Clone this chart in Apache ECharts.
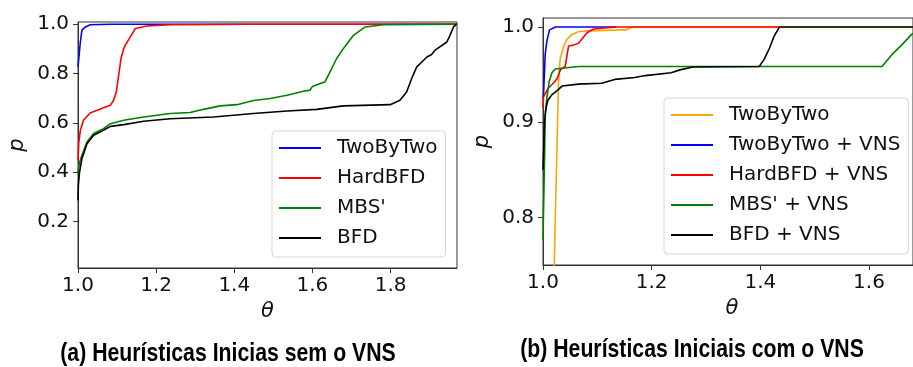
<!DOCTYPE html>
<html>
<head>
<meta charset="utf-8">
<script src="https://cdn.jsdelivr.net/npm/echarts@6/dist/echarts.min.js"></script>
<style>
  html, body { margin: 0; padding: 0; background: #fff; }
  #chart { width: 913px; height: 367px; }
</style>
</head>
<body>
<div id="chart"></div>
<script>
// (a) sem VNS
const namesA = ['TwoByTwo', 'HardBFD', "MBS'", 'BFD'];
const tbtX = [1.0, 1.0015, 1.006, 1.010, 1.019, 1.031, 1.083, 1.97];
const tbtY = [0.827, 0.83, 0.928, 0.976, 0.989, 0.998, 1.0, 1.0];
const hbfdX = [1.0, 1.002, 1.006, 1.014, 1.031, 1.049, 1.065, 1.083, 1.091, 1.098, 1.104, 1.110, 1.117, 1.121, 1.134, 1.147, 1.176, 1.236, 1.45, 1.97];
const hbfdY = [0.449, 0.52, 0.570, 0.611, 0.640, 0.651, 0.661, 0.672, 0.692, 0.725, 0.793, 0.861, 0.901, 0.915, 0.949, 0.983, 0.993, 0.998, 1.0, 1.0];
const mbsX = [1.0, 1.004, 1.010, 1.023, 1.040, 1.065, 1.083, 1.117, 1.168, 1.236, 1.287, 1.321, 1.364, 1.407, 1.449, 1.492, 1.535, 1.577, 1.594, 1.600, 1.620, 1.632, 1.645, 1.662, 1.679, 1.705, 1.735, 1.782, 1.97];
const mbsY = [0.401, 0.44, 0.469, 0.523, 0.557, 0.577, 0.597, 0.611, 0.624, 0.638, 0.642, 0.655, 0.669, 0.674, 0.691, 0.699, 0.712, 0.728, 0.733, 0.748, 0.760, 0.766, 0.807, 0.861, 0.901, 0.955, 0.989, 0.998, 1.0];
const bfdX = [1.0, 1.001, 1.004, 1.010, 1.023, 1.040, 1.065, 1.083, 1.117, 1.168, 1.236, 1.347, 1.449, 1.535, 1.611, 1.679, 1.799, 1.824, 1.841, 1.854, 1.867, 1.880, 1.893, 1.905, 1.914, 1.944, 1.952, 1.961, 1.969];
const bfdY = [0.286, 0.35, 0.401, 0.455, 0.516, 0.550, 0.570, 0.586, 0.593, 0.607, 0.617, 0.624, 0.638, 0.648, 0.655, 0.669, 0.674, 0.692, 0.725, 0.780, 0.827, 0.847, 0.867, 0.877, 0.895, 0.928, 0.955, 0.989, 1.0];

// (b) com VNS
const namesB = ['TwoByTwo', 'TwoByTwo + VNS', 'HardBFD + VNS', "MBS' + VNS", 'BFD + VNS'];
const tbt0X = [1.019, 1.0207, 1.0256, 1.0286, 1.0317, 1.0377, 1.044, 1.053, 1.065, 1.0835, 1.151, 1.166, 1.681];
const tbt0Y = [0.60, 0.75, 0.872, 0.942, 0.967, 0.979, 0.987, 0.992, 0.995, 0.996, 0.997, 1.0, 1.0];
const tbtVX = [1.0, 1.001, 1.004, 1.007, 1.012, 1.023, 1.135];
const tbtVY = [0.925, 0.929, 0.971, 0.985, 0.997, 1.0, 1.0];
const hbfdVX = [1.0, 1.001, 1.010, 1.019, 1.026, 1.032, 1.041, 1.047, 1.056, 1.065, 1.071, 1.081, 1.093, 1.135, 1.435];
const hbfdVY = [0.915, 0.927, 0.936, 0.941, 0.946, 0.955, 0.959, 0.980, 0.981, 0.983, 0.987, 0.994, 0.998, 1.0, 1.0];
const mbsVX = [1.0, 1.003, 1.004, 1.007, 1.0115, 1.0165, 1.0225, 1.065, 1.624, 1.642, 1.660, 1.678, 1.698];
const mbsVY = [0.777, 0.866, 0.908, 0.925, 0.943, 0.952, 0.956, 0.9585, 0.9585, 0.971, 0.981, 0.992, 1.0];
const bfdVX = [1.0, 1.001, 1.003, 1.0055, 1.009, 1.0165, 1.0256, 1.035, 1.065, 1.108, 1.132, 1.169, 1.188, 1.236, 1.252, 1.276, 1.398, 1.407, 1.417, 1.425, 1.435, 1.681];
const bfdVY = [0.85, 0.852, 0.901, 0.915, 0.923, 0.929, 0.933, 0.938, 0.940, 0.941, 0.945, 0.947, 0.949, 0.952, 0.955, 0.958, 0.9585, 0.966, 0.978, 0.990, 1.0, 1.0];

const xTicksA = [1.0, 1.2, 1.4, 1.6, 1.8];
const yTicksA = [0.2, 0.4, 0.6, 0.8, 1.0];
const xTicksB = [1.0, 1.2, 1.4, 1.6];
const yTicksB = [0.8, 0.9, 1.0];
const captionA = '(a) Heurísticas Inicias sem o VNS';
const captionB = '(b) Heurísticas Iniciais com o VNS';

const colorsA = ['#0000ff', '#ff0000', '#008000', '#000000'];
const colorsB = ['#ffa500', '#0000ff', '#ff0000', '#008000', '#000000'];

const zip = (xs, ys) => xs.map((x, i) => [x, ys[i]]);
const FONT = 'DejaVu Sans';
const INK = '#111';

function xAxis(idx, max, ticks, shift) {
  return {
    type: 'value', gridIndex: idx, min: 1.0, max: max,
    name: 'θ', nameLocation: 'middle', nameGap: 32,
    nameTextStyle: { fontFamily: FONT, fontStyle: 'italic', fontSize: 21, color: INK, padding: [0, 0, 0, shift] },
    axisLine: { show: true, onZero: false, lineStyle: { color: '#333', width: 1 } },
    axisTick: { show: true, length: 5, customValues: ticks, lineStyle: { color: '#333' } },
    axisLabel: { customValues: ticks, margin: 8, fontFamily: FONT, fontSize: 20, color: INK, formatter: v => v.toFixed(1) },
    splitLine: { show: false }
  };
}
function yAxis(idx, min, max, ticks, gap) {
  return {
    type: 'value', gridIndex: idx, min: min, max: max,
    name: 'p', nameLocation: 'middle', nameGap: gap,
    nameTextStyle: { fontFamily: FONT, fontStyle: 'italic', fontSize: 21, color: INK },
    axisLine: { show: true, onZero: false, lineStyle: { color: '#333', width: 1 } },
    axisTick: { show: true, length: 5, customValues: ticks, lineStyle: { color: '#333' } },
    axisLabel: { customValues: ticks, margin: 9, fontFamily: FONT, fontSize: 20, color: INK, formatter: v => v.toFixed(1) },
    splitLine: { show: false }
  };
}
function line(name, data, color, idx) {
  return {
    name, type: 'line', xAxisIndex: idx, yAxisIndex: idx, data,
    symbol: 'none', animation: false,
    lineStyle: { color, width: 1.6 }, itemStyle: { color }
  };
}
// legend handles drawn as short flat bars, coloured per entry (the name TwoByTwo is used twice)
function legend(names, colors, left, top) {
  return {
    data: names.map((n, i) => ({ name: n, icon: 'rect', itemStyle: { color: colors[i] } })),
    orient: 'vertical', left, top, selectedMode: false,
    itemWidth: 42, itemHeight: 2, itemGap: 10, padding: [7, 8, 9, 7],
    backgroundColor: 'rgba(255,255,255,0.8)', borderColor: '#d6d6d6', borderWidth: 1, borderRadius: 4,
    textStyle: { fontFamily: FONT, fontSize: 20, color: INK, lineHeight: 20, padding: [0, 0, 0, 11] }
  };
}
function caption(text, x, y) {
  return {
    type: 'text', x, y, scaleX: 0.85,
    style: { text, font: 'bold 25px "Liberation Sans", Arial', fill: '#000',
      textAlign: 'center', textVerticalAlign: 'middle', align: 'center', verticalAlign: 'middle' }
  };
}

const chart = echarts.init(document.getElementById('chart'), null, { renderer: 'canvas' });
chart.setOption({
  animation: false,
  backgroundColor: '#fff',
  grid: [
    { left: 78, top: 22, width: 379, height: 246, show: true, borderColor: '#333', borderWidth: 1, backgroundColor: 'transparent' },
    { left: 543, top: 18, right: -2, height: 247, show: true, borderColor: '#333', borderWidth: 1, backgroundColor: 'transparent' }
  ],
  xAxis: [xAxis(0, 1.97, xTicksA, 0), xAxis(1, 1.681, xTicksB, 8)],
  yAxis: [yAxis(0, 0.012, 1.009, yTicksA, 50), yAxis(1, 0.75, 1.0095, yTicksB, 50)],
  legend: [legend(namesA, colorsA, 272, 131), legend(namesB, colorsB, 664, 98)],
  series: [
    ...namesA.map((n, i) => line(n, zip([tbtX, hbfdX, mbsX, bfdX][i], [tbtY, hbfdY, mbsY, bfdY][i]), colorsA[i], 0)),
    ...namesB.map((n, i) => line(n, zip([tbt0X, tbtVX, hbfdVX, mbsVX, bfdVX][i], [tbt0Y, tbtVY, hbfdVY, mbsVY, bfdVY][i]), colorsB[i], 1))
  ],
  graphic: [caption(captionA, 228, 354), caption(captionB, 692, 350)]
});
</script>
</body>
</html>
